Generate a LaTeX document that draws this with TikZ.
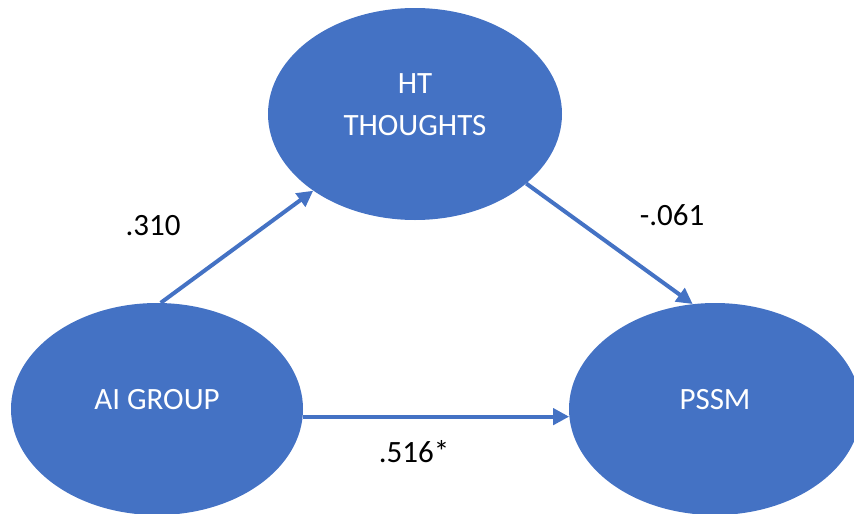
\documentclass[tikz,border=0pt]{standalone}
\usepackage{fontspec}
\setmainfont{Carlito}
\usetikzlibrary{shapes.geometric,arrows.meta}
\definecolor{ovalblue}{HTML}{4472C4}

\begin{document}
\begin{tikzpicture}[x=1pt,y=-1pt,
    oval/.style={ellipse, fill=ovalblue, minimum width=292pt, minimum height=212pt, inner sep=0pt},
    ovaltxt/.style={text=white, font=\fontsize{31}{42}\selectfont, align=center, yshift=9pt},
    link/.style={draw=ovalblue, line width=4pt, -{Triangle[length=16pt,width=16pt]}},
    coef/.style={font=\fontsize{31}{37}\selectfont}]
    \useasboundingbox (0,0) rectangle (854,514);

    \node[oval, minimum width=294pt, label={[ovaltxt]center:HT\\THOUGHTS}] (ht) at (415,114) {};
    \node[oval, label={[ovaltxt]center:AI GROUP}] (ai) at (157,409) {};
    \node[oval, label={[ovaltxt]center:PSSM}] (pssm) at (715,409) {};

    \draw[link] (ai.88) -- (ht.217);
    \draw[link] (ht.-32) -- (pssm.102);
    \draw[link] (ai.-3) -- (pssm.183);

    \node[coef] (a) at (153,226) {.310};
    \node[coef] (b) at (672,215) {-.061};
    \node[coef] (c) at (414,452) {.516*};
\end{tikzpicture}
\end{document}
